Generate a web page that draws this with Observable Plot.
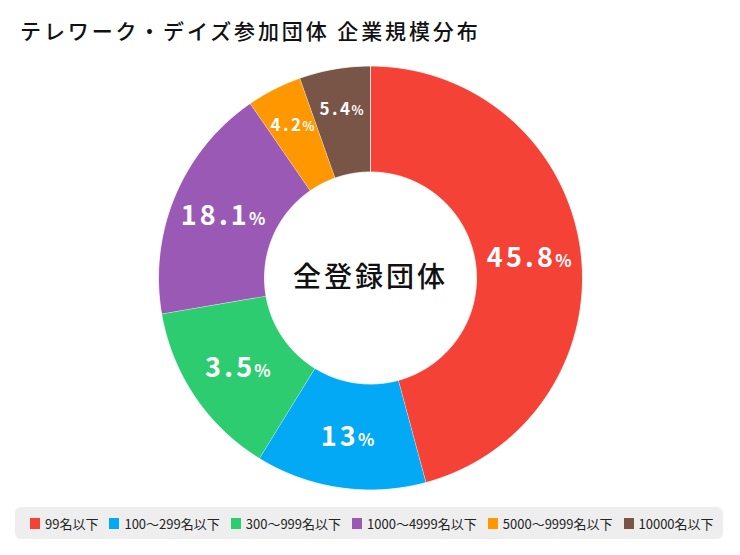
<!DOCTYPE html>
<html><head><meta charset="utf-8">
<script src="https://cdn.jsdelivr.net/npm/d3@7"></script>
<script src="https://cdn.jsdelivr.net/npm/@observablehq/plot@0.6"></script>
<style>
body{margin:0;background:#fff;font-family:"Noto Sans CJK JP","Noto Sans",sans-serif;}
#title{position:absolute;left:20px;top:18px;font-size:21px;letter-spacing:2.9px;color:#111;line-height:24px;font-weight:500;}
#chart{position:absolute;left:0;top:50px;}
#legend{position:absolute;left:15px;top:507px;width:708px;height:32px;background:#eeeeee;border-radius:6px;box-sizing:border-box;padding-left:15px;display:flex;align-items:center;font-size:13px;color:#222;}
.item{display:flex;align-items:center;margin-right:11px;white-space:nowrap;}
.sw{width:10px;height:11px;margin-right:5px;display:inline-block;}
</style></head>
<body>
<div id="title">テレワーク・デイズ参加団体 企業規模分布</div>
<div id="chart"></div>
<div id="legend"></div>
<script>
const categories = ["99名以下","100〜299名以下","300〜999名以下","1000〜4999名以下","5000〜9999名以下","10000名以下"];
const values = [45.8, 13, 13.5, 18.1, 4.2, 5.4];
const labelTexts = ["45.8","13","3.5","18.1","4.2","5.4"];
const colors = ["#f44336","#03a9f4","#2ecc71","#9b59b6","#ff9800","#795548"];
const centerLabel = "全登録団体";

const W = 740, H = 456, R = 212, cy = 227.5;
const inner = 0.5;
const total = d3.sum(values);

// build slice polygons from values
const poly = [];
const labels = [];
let acc = 0;
values.forEach((v, i) => {
  const a0 = acc / total * 2 * Math.PI;
  acc += v;
  const a1 = acc / total * 2 * Math.PI;
  const n = Math.max(4, Math.ceil((a1 - a0) / 0.01));
  for (let k = 0; k <= n; k++) {
    const a = a0 + (a1 - a0) * k / n;
    poly.push({cat: categories[i], x: Math.sin(a), y: Math.cos(a)});
  }
  for (let k = n; k >= 0; k--) {
    const a = a0 + (a1 - a0) * k / n;
    poly.push({cat: categories[i], x: inner * Math.sin(a), y: inner * Math.cos(a)});
  }
  const am = (a0 + a1) / 2;
  const small = v < 8;
  const r = small ? 0.81 : 0.755;
  labels.push({text: labelTexts[i], x: r * Math.sin(am), y: r * Math.cos(am), small});
});

const plot = Plot.plot({
  width: W, height: H,
  margin: 0,
  x: {domain: [-W/2/R, W/2/R], axis: null},
  y: {domain: [-(H-cy)/R, cy/R], axis: null},
  color: {domain: categories, range: colors},
  style: {fontFamily: '"Noto Sans CJK JP","Noto Sans",sans-serif', background: "white"},
  marks: [
    Plot.line(poly, {x: "x", y: "y", z: "cat", fill: "cat", stroke: "white", strokeWidth: 0.8, curve: "linear"}),
    Plot.text(labels, {x: "x", y: "y", text: "text", fill: "white", fontWeight: "bold", fontSize: d => d.small ? 17 : 27, dy: 1}),
    Plot.text([centerLabel], {x: 0, y: 0, text: d => d, fontSize: 28, fill: "#111", fontWeight: 500})
  ]
});
document.getElementById("chart").appendChild(plot);

const textGroups = d3.select(plot).selectAll('g[aria-label="text"]').nodes();
// add the smaller "%" sign after each number
d3.select(textGroups[0]).selectAll("text").each(function(){
  const t = d3.select(this);
  const s = t.text();
  const big = parseFloat(t.attr("font-size") || 27) > 20;
  t.text(null).attr("letter-spacing", big ? 3.2 : 2.4).attr("text-anchor", "middle");
  t.append("tspan").text(s);
  t.append("tspan").attr("font-size", big ? 17 : 12.5).attr("letter-spacing", 0).attr("dx", -1).text("%");
});
d3.select(textGroups[1]).selectAll("text").attr("letter-spacing", 3);

// legend
const leg = d3.select("#legend");
categories.forEach((c, i) => {
  const it = leg.append("div").attr("class", "item");
  it.append("span").attr("class", "sw").style("background", colors[i]);
  it.append("span").text(c);
});
</script>
</body></html>
